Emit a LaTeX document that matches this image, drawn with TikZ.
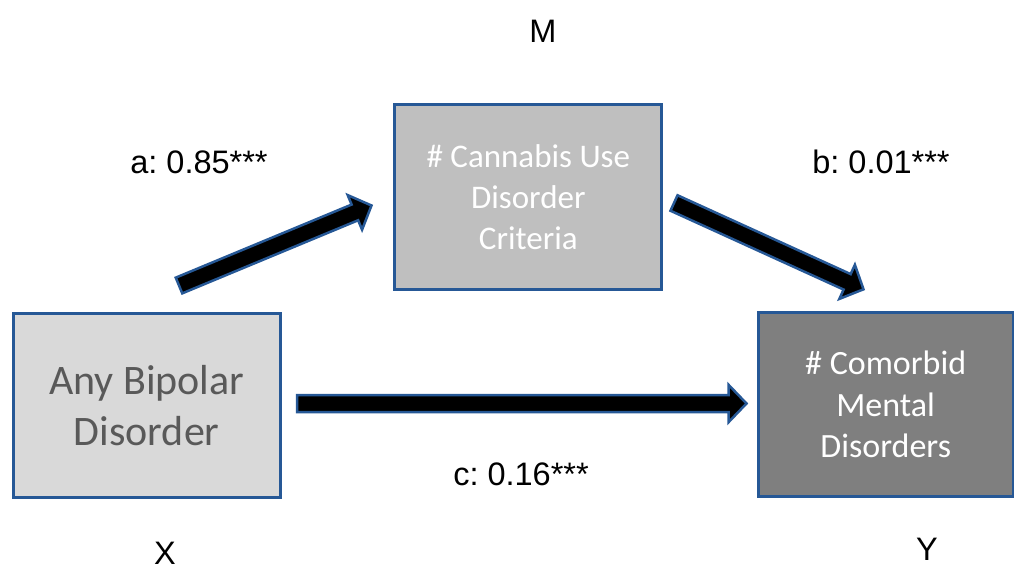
\documentclass[tikz,border=0pt]{standalone}
\usepackage{fontspec}
\setmainfont{Liberation Sans}
\newfontfamily\boxfont{Carlito}
\usetikzlibrary{calc}
\frenchspacing

\definecolor{boxblue}{RGB}{38,88,150}
\definecolor{lightbox}{HTML}{D9D9D9}
\definecolor{midbox}{HTML}{BFBFBF}
\definecolor{darkbox}{HTML}{7F7F7F}
\definecolor{darktext}{HTML}{595959}

% block arrow from tail #1 to tip #2
\newcommand{\blockarrow}[2]{%
  \coordinate (neck) at ($(#2)!18pt!(#1)$);
  \filldraw[fatarrow]
    ($(#1)!8.5pt!90:(#2)$) -- ($(neck)!8.5pt!90:(#2)$)
    -- ($(neck)!18.75pt!90:(#2)$) -- (#2)
    -- ($(neck)!18.75pt!-90:(#2)$) -- ($(neck)!8.5pt!-90:(#2)$)
    -- ($(#1)!8.5pt!-90:(#2)$) -- cycle;
}

\begin{document}
\begin{tikzpicture}[
  x=1pt, y=-1pt,
  box/.style={
    draw=boxblue,
    line width=3pt,
    align=center,
    inner sep=0pt,
    minimum width=267pt,
    minimum height=184pt,
    font=\boxfont\fontsize{33}{41}\selectfont
  },
  coef/.style={font=\fontsize{32.5}{38}\selectfont, anchor=base},
  fatarrow/.style={fill=black, draw=boxblue, line width=2.5pt, line join=miter}
]

\useasboundingbox (0,0) rectangle (1014,570);

% ------------------------------------------------
% Boxes X, M, Y
% ------------------------------------------------
\node[box, fill=lightbox, text=darktext, font=\boxfont\fontsize{42}{51}\selectfont]
  (bipolar) at (146.7,405.3) {Any Bipolar\\Disorder};
\node[box, fill=midbox, text=white, minimum height=185pt]
  (cannabis) at (528.3,196.7) {\# Cannabis Use\\Disorder\\Criteria};
\node[box, fill=darkbox, text=white, minimum width=255pt, font=\boxfont\fontsize{34}{41.5}\selectfont]
  (comorbid) at (885.7,404.7) {\# Comorbid\\Mental\\Disorders};

% Labels
\node[coef] (labM) at (543,42) {M};
\node[coef] (labX) at (165,564) {X};
\node[coef] (labY) at (927,560) {Y};
\node[coef] (labA) at (199,173) {a: 0.85***};
\node[coef] (labB) at (881,173) {b: 0.01***};
\node[coef] (labC) at (521,485) {c: 0.16***};

% ------------------------------------------------
% Paths a, b, c
% ------------------------------------------------
\coordinate (aTail) at (179,285.5);
\coordinate (aTip)  at (371.5,205.5);
\coordinate (bTail) at (674,203);
\coordinate (bTip)  at (863.5,289.3);
\coordinate (cTail) at (297,403.5);
\coordinate (cTip)  at (746.5,403.5);

\blockarrow{aTail}{aTip}
\blockarrow{bTail}{bTip}
\blockarrow{cTail}{cTip}

\end{tikzpicture}
\end{document}
